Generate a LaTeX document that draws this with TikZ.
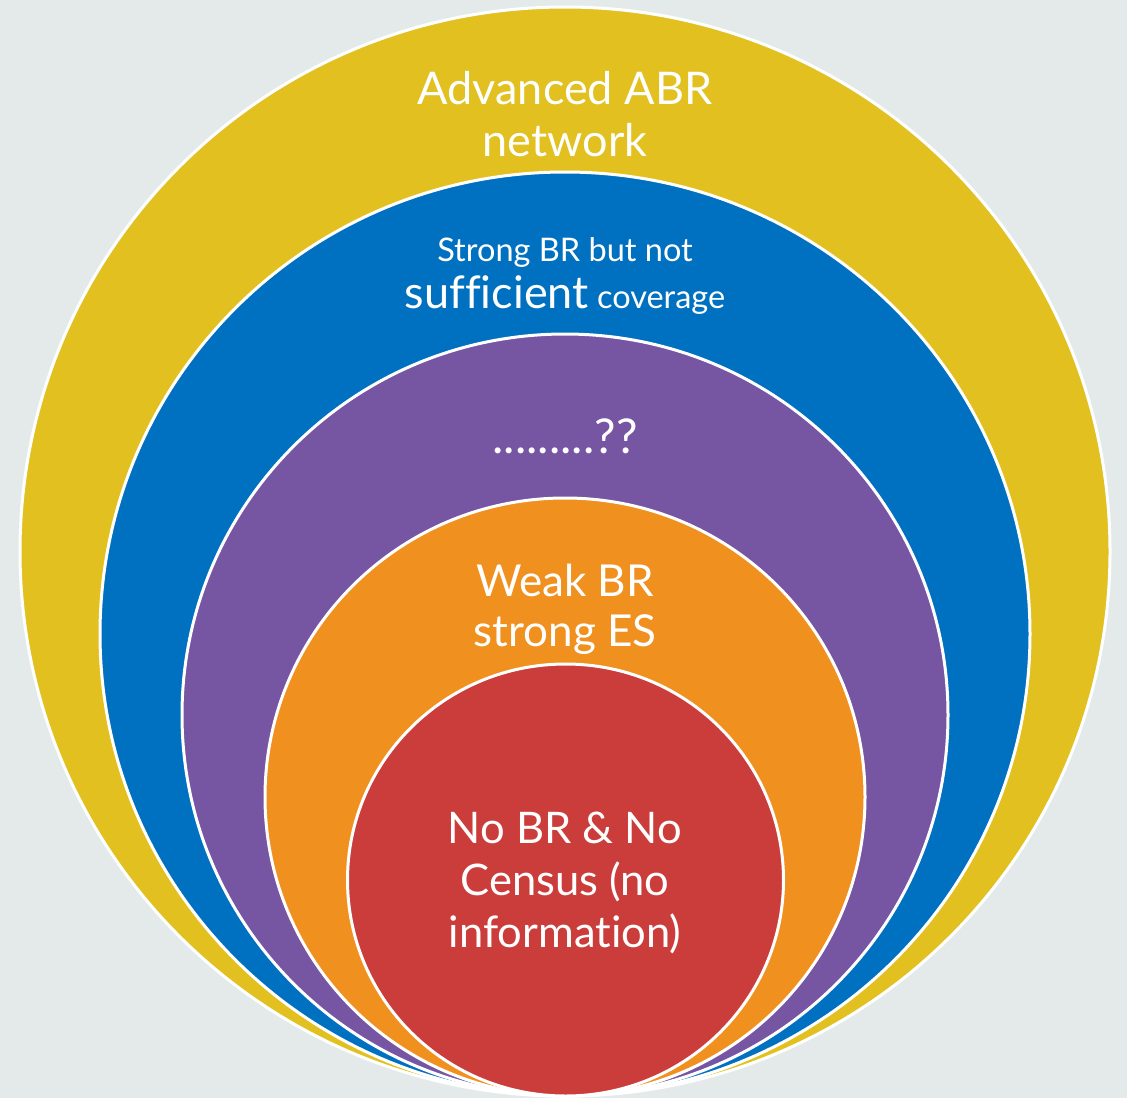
\documentclass[tikz,border=0pt]{standalone}
\usepackage{fontspec}
\setmainfont{Lato}[Ligatures=NoCommon]
\definecolor{bgc}{HTML}{E4EAEA}
\definecolor{cyel}{HTML}{E2C020}
\definecolor{cblu}{HTML}{0070C0}
\definecolor{cpur}{HTML}{7655A3}
\definecolor{cora}{HTML}{F0901E}
\definecolor{cred}{HTML}{CB3D3B}
\begin{document}
\begin{tikzpicture}[x=1pt,y=-1pt,
  ring/.style={draw=white,line width=3pt},
  lbl/.style={text=white,align=center,anchor=base,inner sep=0pt}]
\fill[bgc] (0,0) rectangle (1127,1098);
\useasboundingbox (0,0) rectangle (1127,1098);
\filldraw[ring,fill=cyel] (565,551.5) ellipse [x radius=545,y radius=544.5];
\filldraw[ring,fill=cblu] (565,634) ellipse [x radius=465,y radius=462];
\filldraw[ring,fill=cpur] (565,715) ellipse [x radius=383,y radius=381];
\filldraw[ring,fill=cora] (565,797) ellipse [x radius=300,y radius=299];
\filldraw[ring,fill=cred] (565.5,880) ellipse [x radius=218,y radius=216];
\node[lbl,font=\fontsize{45}{52}\selectfont] (t1) at (565,156) {Advanced ABR\\network};
\node[lbl,font=\fontsize{32.5}{47}\selectfont] (t2) at (565,308) {Strong BR but not\\{\fontsize{45}{47}\selectfont sufficient} coverage};
\node[lbl,font=\fontsize{48}{48}\selectfont] (t3) at (565,453) {.........??};
\node[lbl,font=\fontsize{44}{50}\selectfont] (t4) at (565,646) {Weak BR\\strong ES};
\node[lbl,font=\fontsize{43.5}{52}\selectfont] (t5) at (565,947) {No BR \& No\\Census (no\\information)};
\end{tikzpicture}
\end{document}
